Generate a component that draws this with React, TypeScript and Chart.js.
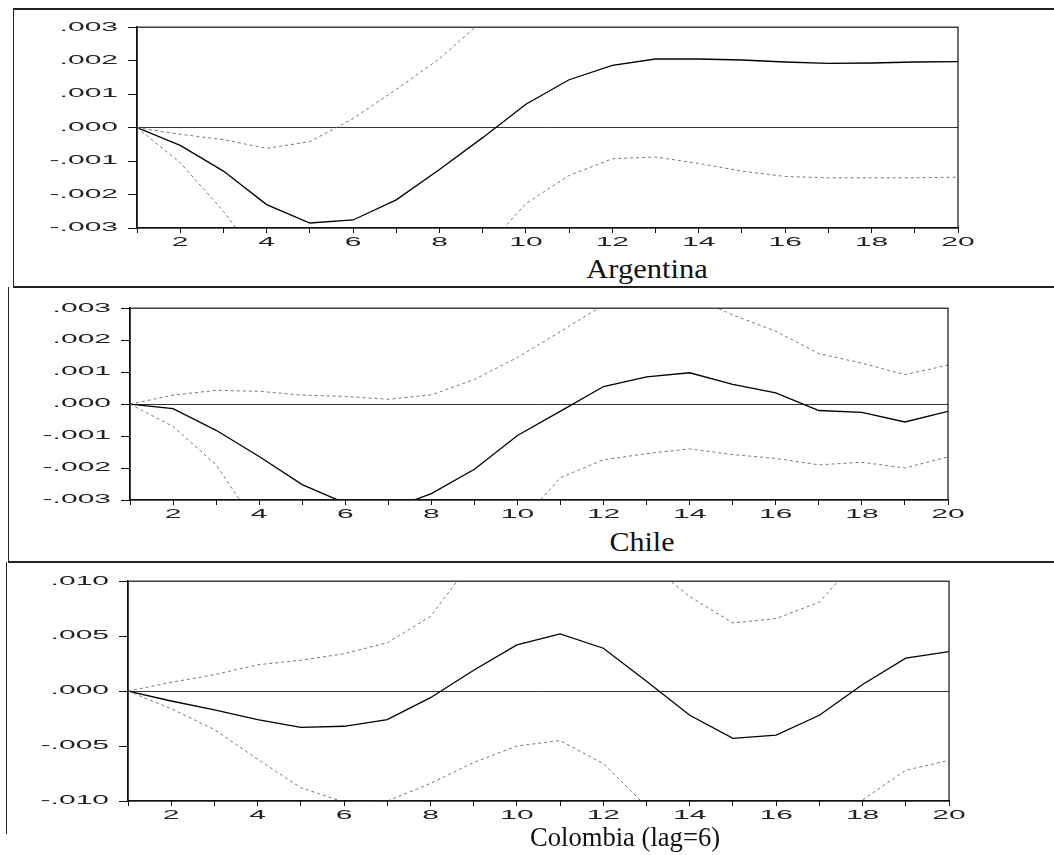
import React, { useEffect, useRef } from 'react';
import { Chart, registerables } from 'chart.js';

Chart.register(...registerables);

// ---------------- data ----------------
const periods = [1, 2, 3, 4, 5, 6, 7, 8, 9, 10, 11, 12, 13, 14, 15, 16, 17, 18, 19, 20];

const argImpulse = [0, -0.00053, -0.0013, -0.0023, -0.00285, -0.00276, -0.00216, -0.00125, -0.0003, 0.0007, 0.00143, 0.00186, 0.00205, 0.00205, 0.00202, 0.00196, 0.00192, 0.00193, 0.00196, 0.00197];
const argUpper = [0, -0.0002, -0.00036, -0.00062, -0.00042, 0.00027, 0.00114, 0.00206, 0.0032, 0.0039, 0.0046, 0.0051, 0.0054, 0.0055, 0.0055, 0.0054, 0.0053, 0.0053, 0.0054, 0.0054];
const argLower = [0, -0.00105, -0.0025, -0.0042, -0.0053, -0.0057, -0.0055, -0.0048, -0.0037, -0.00227, -0.00143, -0.00093, -0.00088, -0.00107, -0.0013, -0.00146, -0.0015, -0.0015, -0.0015, -0.00148];

const chiImpulse = [0, -0.00014, -0.00082, -0.00164, -0.00252, -0.0031, -0.0033, -0.0028, -0.00204, -0.00098, -0.00022, 0.00055, 0.00085, 0.00098, 0.00062, 0.00035, -0.0002, -0.00026, -0.00056, -0.00023];
const chiUpper = [0, 0.00028, 0.00043, 0.0004, 0.00028, 0.00024, 0.00015, 0.00029, 0.00077, 0.00146, 0.00227, 0.0031, 0.0035, 0.0034, 0.00279, 0.00228, 0.00158, 0.00128, 0.00092, 0.00122];
const chiLower = [0, -0.0007, -0.0019, -0.0039, -0.005, -0.0057, -0.006, -0.0057, -0.0049, -0.0038, -0.0023, -0.00174, -0.00155, -0.0014, -0.00158, -0.0017, -0.0019, -0.00182, -0.002, -0.00165];

const colImpulse = [0, -0.0009, -0.0017, -0.0026, -0.0033, -0.0032, -0.0026, -0.0006, 0.0019, 0.0042, 0.0052, 0.0039, 0.0009, -0.0022, -0.0043, -0.004, -0.0022, 0.0006, 0.003, 0.0036];
const colUpper = [0, 0.0008, 0.0015, 0.0024, 0.0028, 0.0034, 0.0044, 0.0068, 0.012, 0.015, 0.016, 0.015, 0.0118, 0.0086, 0.0062, 0.0066, 0.0081, 0.0125, 0.014, 0.015];
const colLower = [0, -0.0016, -0.0035, -0.0062, -0.0088, -0.0101, -0.01, -0.0084, -0.0065, -0.005, -0.0045, -0.0066, -0.0105, -0.013, -0.015, -0.015, -0.0125, -0.0099, -0.0072, -0.0063];

const titles = ['Argentina', 'Chile', 'Colombia (lag=6)'];
const argRange = [-0.003, 0.003, 0.001];
const chiRange = [-0.003, 0.003, 0.001];
const colRange = [-0.01, 0.01, 0.005];

// ---------------- helpers ----------------
const TICK_FONT = { family: "'Liberation Sans', Arial, sans-serif", size: 12 };
const STRETCH = 2.5;

function fmt(v: number): string {
  const s = Math.abs(v) < 1e-12 ? '0.000' : v.toFixed(3);
  return s.replace('0.', '.');
}

const stretchTextPlugin = {
  id: 'stretchText',
  afterInit(chart: any) {
    const ctx = chart.ctx as any;
    if (ctx.__stretched) return;
    const orig = ctx.fillText;
    ctx.fillText = function (text: string, x: number, y: number) {
      this.save();
      this.translate(x, y);
      this.scale(STRETCH, 1);
      orig.call(this, text, 0, 0);
      this.restore();
    };
    ctx.__stretched = true;
  },
};

const framePlugin = {
  id: 'plotFrame',
  afterDatasetsDraw(chart: any) {
    const { ctx, chartArea: a } = chart;
    ctx.save();
    ctx.strokeStyle = '#111';
    ctx.lineWidth = 1.2;
    ctx.strokeRect(a.left, a.top, a.right - a.left, a.bottom - a.top);
    ctx.restore();
  },
};

type PanelProps = {
  top: number;
  plotTop: number;
  plotBottom: number;
  plotLeft: number;
  plotRight: number;
  impulse: number[];
  upper: number[];
  lower: number[];
  range: number[];
};

const PAD_TOP = 10;
const X_AXIS_H = 22;

function Panel(p: PanelProps) {
  const ref = useRef<HTMLCanvasElement | null>(null);
  const height = p.plotBottom - p.plotTop + PAD_TOP + X_AXIS_H;
  useEffect(() => {
    if (!ref.current) return;
    const toXY = (vals: number[]) => periods.map((x, i) => ({ x, y: vals[i] }));
    const band = (vals: number[]) => ({
      data: toXY(vals),
      borderColor: '#777',
      borderWidth: 1,
      borderDash: [3, 3],
      pointRadius: 0,
      tension: 0,
      fill: false,
    });
    const chart = new Chart(ref.current, {
      type: 'line',
      data: {
        datasets: [
          band(p.upper),
          band(p.lower),
          {
            data: toXY(p.impulse),
            borderColor: '#000',
            borderWidth: 1.3,
            pointRadius: 0,
            tension: 0,
            fill: false,
          },
        ],
      },
      options: {
        animation: false,
        responsive: false,
        maintainAspectRatio: false,
        events: [],
        layout: { padding: { left: 0, right: 1054 - p.plotRight, top: PAD_TOP, bottom: 0 } },
        plugins: { legend: { display: false }, tooltip: { enabled: false }, title: { display: false } },
        scales: {
          x: {
            type: 'linear',
            min: 1,
            max: 20,
            ticks: {
              stepSize: 1,
              autoSkip: false,
              maxRotation: 0,
              minRotation: 0,
              padding: 2,
              color: '#222',
              font: TICK_FONT,
              callback: (v: any) => (Number(v) % 2 === 0 ? String(v) : ''),
            },
            grid: { drawOnChartArea: false, drawTicks: true, tickLength: 5, tickColor: '#111', tickWidth: 1 },
            border: { display: true, color: '#111', width: 1.2 },
            afterFit: (s: any) => {
              s.height = X_AXIS_H;
            },
          },
          y: {
            type: 'linear',
            min: p.range[0],
            max: p.range[1],
            ticks: {
              stepSize: p.range[2],
              padding: 10,
              color: '#222',
              font: TICK_FONT,
              callback: (v: any) => fmt(Number(v)),
            },
            grid: {
              drawOnChartArea: true,
              color: (c: any) =>
                c.tick && Math.abs(c.tick.value) < 1e-12 ? '#333' : 'rgba(0,0,0,0)',
              lineWidth: 1,
              tickLength: 9,
              tickColor: '#111',
              tickWidth: 1,
            },
            border: { display: true, color: '#111', width: 1.5 },
            afterFit: (s: any) => {
              s.width = p.plotLeft;
            },
          },
        },
      } as any,
      plugins: [stretchTextPlugin, framePlugin],
    });
    return () => chart.destroy();
  }, []);
  return (
    <canvas
      ref={ref}
      width={1054}
      height={height}
      style={{ position: 'absolute', left: 0, top: p.top, width: '1054px', height: height + 'px' }}
    />
  );
}

function Title(props: { text: string; cx: number; cy: number; sx: number }) {
  return (
    <div
      style={{
        position: 'absolute',
        left: props.cx,
        top: props.cy,
        transform: `translate(-50%, -50%) scaleX(${props.sx})`,
        fontFamily: "'Liberation Serif', 'Times New Roman', serif",
        fontSize: '28px',
        lineHeight: '28px',
        color: '#111',
        whiteSpace: 'nowrap',
      }}
    >
      {props.text}
    </div>
  );
}

function Line(props: { x: number; y: number; w: number; h: number; c?: string }) {
  return (
    <div
      style={{
        position: 'absolute',
        left: props.x,
        top: props.y,
        width: props.w,
        height: props.h,
        background: props.c || '#222',
      }}
    />
  );
}

export default function App() {
  return (
    <div style={{ position: 'absolute', left: 0, top: 0, width: 1054, height: 855, background: '#fff', overflow: 'hidden' }}>
      <Panel top={20 - PAD_TOP} plotTop={20} plotBottom={228} plotLeft={137} plotRight={958}
        impulse={argImpulse} upper={argUpper} lower={argLower} range={argRange} />
      <Panel top={301 - PAD_TOP} plotTop={301} plotBottom={500} plotLeft={130} plotRight={948}
        impulse={chiImpulse} upper={chiUpper} lower={chiLower} range={chiRange} />
      <Panel top={574 - PAD_TOP} plotTop={574} plotBottom={801} plotLeft={128} plotRight={949}
        impulse={colImpulse} upper={colUpper} lower={colLower} range={colRange} />

      <Title text={titles[0]} cx={647} cy={269} sx={1.09} />
      <Title text={titles[1]} cx={642} cy={542} sx={1.07} />
      <Title text={titles[2]} cx={625} cy={837} sx={0.95} />

      <Line x={13} y={8} w={1041} h={2} />
      <Line x={13} y={286} w={1041} h={2} />
      <Line x={8} y={561} w={1046} h={2} />
      <Line x={13} y={8} w={1} h={280} />
      <Line x={8} y={287} w={1} h={276} />
      <Line x={6} y={562} w={1} h={272} />
    </div>
  );
}
